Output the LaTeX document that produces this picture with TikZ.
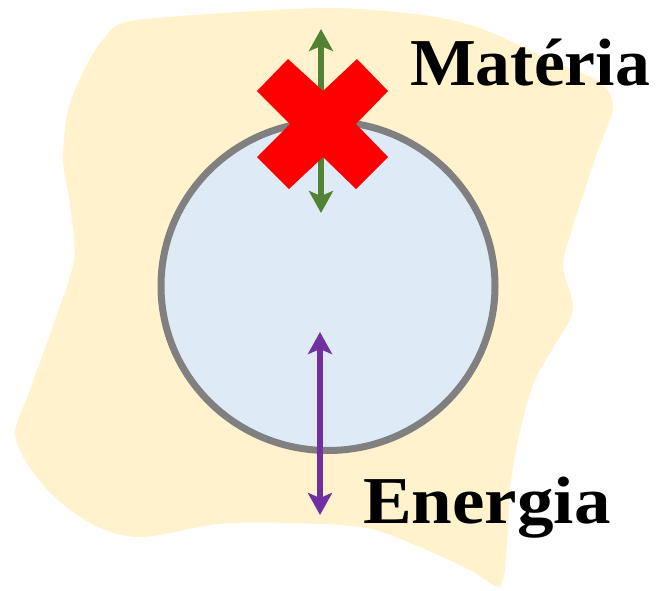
\documentclass[tikz,border=0pt]{standalone}
\usepackage{fontspec}
\setmainfont{Liberation Serif}
\usetikzlibrary{arrows.meta,positioning}
\definecolor{mbSand}{HTML}{FFF2CC}
\definecolor{mbCell}{HTML}{DEEBF7}
\definecolor{mbRim}{HTML}{808080}
\definecolor{mbMatter}{HTML}{548235}
\definecolor{mbEnergy}{HTML}{7030A0}
\definecolor{mbStop}{HTML}{FF0000}
\tikzset{
  mb surroundings/.style={fill=mbSand},
  mb cell/.style={fill=mbCell, draw=mbRim, line width=7pt},
  mb flow/.style={
    line width=6pt,
    {Stealth[length=22pt,width=24pt,inset=5pt]}-{Stealth[length=22pt,width=24pt,inset=5pt]}
  },
  mb matter/.style={mb flow, draw=mbMatter},
  mb energy/.style={mb flow, draw=mbEnergy},
  mb cross/.style={fill=mbStop},
  mb label/.style={font=\fontsize{67}{70}\selectfont\bfseries, text=black,
    inner sep=0pt, anchor=base west}
}
\begin{document}
\begin{tikzpicture}[x=1pt,y=-1pt]
  \useasboundingbox (0,0) rectangle (659,590);
  % surroundings
  \fill[mb surroundings] plot[smooth cycle, tension=.5] coordinates {
    (131,21) (240,12) (338,8) (430,16) (485,30) (550,60) (600,82)
    (613,108) (598,150) (575,220) (563,265) (573,310) (553,348)
    (533,385) (518,440) (510,490) (507,545) (500,586) (470,570)
    (422,548) (367,528) (290,523) (219,524) (143,537) (100,528)
    (60,502) (30,468) (15,433) (30,390) (55,320) (74,260) (70,205)
    (63,160) (68,110) (84,70) (105,37)};
  % system
  \draw[mb cell] (328,286) ellipse [x radius=167, y radius=164.5];

  \coordinate (matter out) at (321,29);
  \coordinate (matter in) at (321,213);
  \draw[mb matter] (matter out) -- (matter in);
  \fill[mb cross] (288,59) -- (323,91) -- (357,59) -- (388,91) -- (356,124)
    -- (388,157) -- (356,189) -- (323,157) -- (289,189) -- (257,157)
    -- (290,124) -- (257,91) -- cycle;

  \coordinate (energy in) at (320,332);
  \coordinate (energy out) at (320,515);
  \draw[mb energy] (energy in) -- (energy out);

  \node[mb label] (matter) at (410,85) {\scalebox{1.04}[1]{Matéria}};
  \node[mb label] (energy) at (363,523) {\scalebox{1.09}[1]{Energia}};
\end{tikzpicture}
\end{document}
